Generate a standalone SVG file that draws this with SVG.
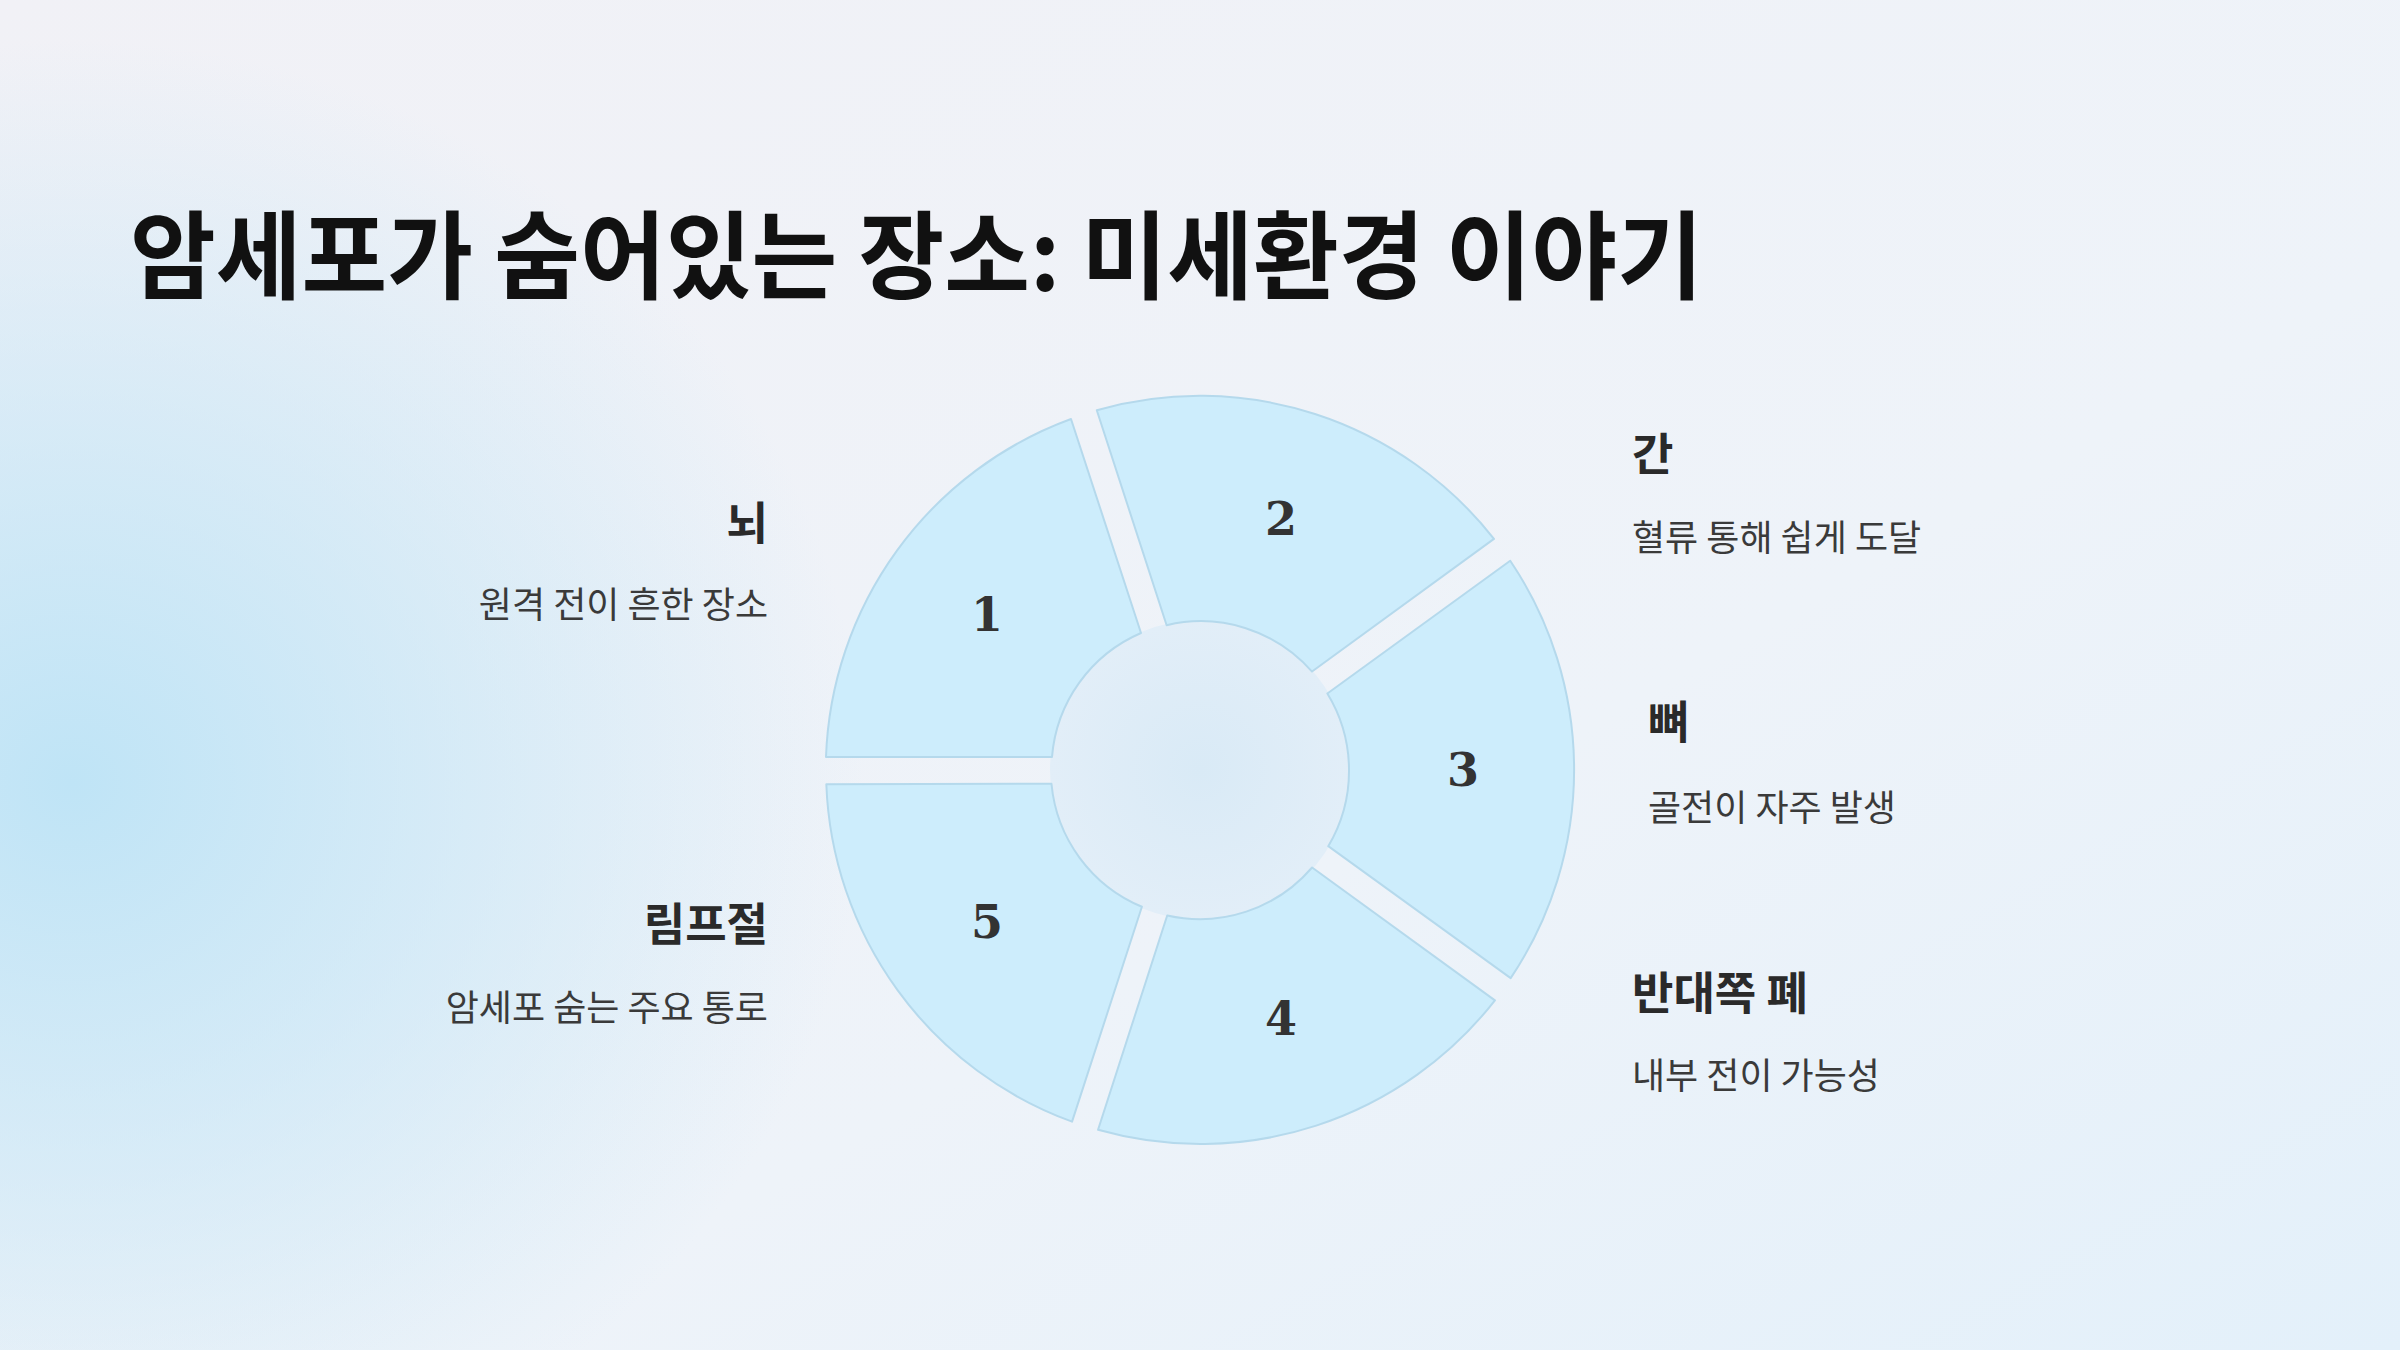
<svg xmlns="http://www.w3.org/2000/svg" width="2400" height="1350" viewBox="0 0 2400 1350">
<defs>
<linearGradient id="bg" x1="0" y1="0" x2="1" y2="1">
<stop offset="0" stop-color="#f1f1f6"/><stop offset="0.6" stop-color="#eef3f9"/><stop offset="1" stop-color="#e3f0fa"/>
</linearGradient>
<radialGradient id="glow" cx="0.05" cy="0.58" r="0.55" gradientTransform="scale(0.6 1)">
<stop offset="0" stop-color="#bfe4f6"/><stop offset="1" stop-color="#bfe4f6" stop-opacity="0"/>
</radialGradient>
<radialGradient id="hole" cx="0.5" cy="0.5" r="0.5">
<stop offset="0" stop-color="#d9eaf6"/><stop offset="1" stop-color="#e2eef8"/>
</radialGradient>
<path id="seg" d="M 826 757 A 374 374 0 0 1 1071 419 L 1141 633 A 148 148 0 0 0 1052 757 Z"/>
</defs>
<style>
.s{fill:#cdedfc;stroke:#b5d9ec;stroke-width:2;stroke-linejoin:round}
.n{font-family:"DejaVu Serif","Liberation Serif",serif;font-weight:bold;font-size:46px;fill:#333;text-anchor:middle}
.h{font-family:"Noto Sans CJK KR",sans-serif;font-weight:bold;font-size:45px;fill:#2a2a2a}
.d{font-family:"Noto Sans CJK KR",sans-serif;font-size:36px;fill:#3a3a3a}
.r{text-anchor:end}
</style>
<rect width="2400" height="1350" fill="url(#bg)"/>
<rect width="2400" height="1350" fill="url(#glow)"/>
<text x="130" y="291" font-family="Noto Sans CJK KR,sans-serif" font-weight="bold" font-size="96" fill="#111" textLength="1573" lengthAdjust="spacingAndGlyphs">암세포가 숨어있는 장소: 미세환경 이야기</text>
<circle cx="1200" cy="770" r="150" fill="url(#hole)"/>
<g id="node1"><use href="#seg" class="s"/><text class="n" x="987" y="631">1</text></g>
<g id="node2"><use href="#seg" class="s" transform="rotate(72 1200 770)"/><text class="n" x="1281" y="535">2</text></g>
<g id="node3"><use href="#seg" class="s" transform="rotate(144 1200 770)"/><text class="n" x="1463" y="786">3</text></g>
<g id="node4"><use href="#seg" class="s" transform="rotate(216 1200 770)"/><text class="n" x="1281" y="1035">4</text></g>
<g id="node5"><use href="#seg" class="s" transform="rotate(288 1200 770)"/><text class="n" x="987" y="938">5</text></g>
<g id="label-liver"><text class="h" x="1632" y="471">간</text><text class="d" x="1632" y="551">혈류 통해 쉽게 도달</text></g>
<g id="label-bone"><text class="h" x="1648" y="739">뼈</text><text class="d" x="1648" y="821">골전이 자주 발생</text></g>
<g id="label-lung"><text class="h" x="1632" y="1010">반대쪽 폐</text><text class="d" x="1632" y="1089">내부 전이 가능성</text></g>
<g id="label-brain"><text class="h r" x="768" y="540">뇌</text><text class="d r" x="768" y="618">원격 전이 흔한 장소</text></g>
<g id="label-lymph"><text class="h r" x="768" y="941">림프절</text><text class="d r" x="768" y="1021">암세포 숨는 주요 통로</text></g>
<g id="connectors"></g>
</svg>
